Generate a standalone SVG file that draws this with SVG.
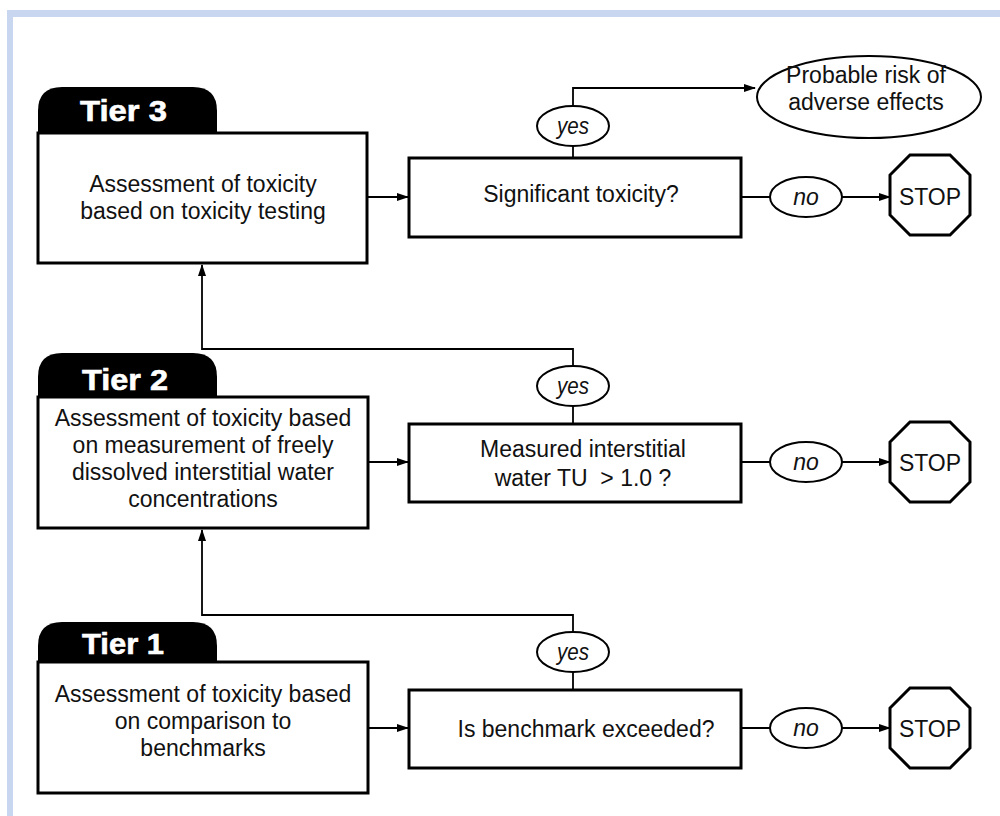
<svg xmlns="http://www.w3.org/2000/svg" width="1000" height="816" viewBox="0 0 1000 816">
<style>
.box{fill:#fff;stroke:#000;stroke-width:3}
.tab{fill:#000}
.tabt{fill:#fff;font-family:"Liberation Sans",Arial,sans-serif;font-weight:bold;font-size:29px;stroke:#fff;stroke-width:0.6}
.t{font-family:"Liberation Sans",Arial,sans-serif;font-size:23px;fill:#111;text-anchor:middle}
.lab{font-family:"Liberation Sans",Arial,sans-serif;font-size:23px;font-style:italic;fill:#111;text-anchor:middle}
.ell{fill:#fff;stroke:#000;stroke-width:2}
.oct{fill:#fff;stroke:#000;stroke-width:3}
.c{fill:none;stroke:#000;stroke-width:1.8}
</style>
<defs>
<marker id="ah" markerWidth="12" markerHeight="10" refX="11" refY="5" orient="auto" markerUnits="userSpaceOnUse">
<path d="M0,1 L12,5 L0,9 Z" fill="#000"/>
</marker>
</defs>
<rect x="0" y="0" width="1000" height="816" fill="#fff"/>
<rect x="7" y="10" width="993" height="7" fill="#c8d6ef"/>
<rect x="7" y="10" width="6" height="806" fill="#c8d6ef"/>

<g id="connectors">
<path class="c" d="M367,197 H408" marker-end="url(#ah)"/>
<path class="c" d="M573,158 V88 H755" marker-end="url(#ah)"/>
<path class="c" d="M741,197 H890" marker-end="url(#ah)"/>
<path class="c" d="M573,424 V349 H202 V265" marker-end="url(#ah)"/>
<path class="c" d="M368,462 H408" marker-end="url(#ah)"/>
<path class="c" d="M741,462 H890" marker-end="url(#ah)"/>
<path class="c" d="M573,690 V615 H202 V530" marker-end="url(#ah)"/>
<path class="c" d="M368,728 H408" marker-end="url(#ah)"/>
<path class="c" d="M741,728 H890" marker-end="url(#ah)"/>
</g>

<g id="tier3">
<path class="tab" d="M38,134 V111 Q38,87 62,87 H193 Q217,87 217,111 V134 Z"/>
<text class="tabt" x="80" y="121" textLength="87" lengthAdjust="spacingAndGlyphs">Tier 3</text>
<rect class="box" x="38" y="133" width="329" height="130"/>
<text class="t" x="203" y="192">Assessment of toxicity</text>
<text class="t" x="203" y="219">based on toxicity testing</text>
</g>
<g id="decision3">
<rect class="box" x="409" y="158" width="332" height="79"/>
<text class="t" x="581" y="202">Significant toxicity?</text>
</g>
<g id="yes3">
<ellipse class="ell" cx="573" cy="126" rx="36" ry="20"/>
<text class="lab" x="573" y="134" textLength="32" lengthAdjust="spacingAndGlyphs">yes</text>
</g>
<g id="risk">
<ellipse class="ell" cx="869" cy="97" rx="112" ry="41" stroke-width="2.5"/>
<text class="t" x="866" y="83">Probable risk of</text>
<text class="t" x="866" y="110">adverse effects</text>
</g>
<g id="no3">
<ellipse class="ell" cx="806" cy="197" rx="36" ry="20"/>
<text class="lab" x="806" y="205">no</text>
</g>
<g id="stop3">
<polygon class="oct" points="910,155 950,155 970,175 970,215 950,235 910,235 890,215 890,175"/>
<text class="t" x="930" y="205">STOP</text>
</g>

<g id="tier2">
<path class="tab" d="M38,398 V377 Q38,353 62,353 H193 Q217,353 217,377 V398 Z"/>
<text class="tabt" x="82" y="390" textLength="86" lengthAdjust="spacingAndGlyphs">Tier 2</text>
<rect class="box" x="38" y="397" width="330" height="131"/>
<text class="t" x="203" y="426">Assessment of toxicity based</text>
<text class="t" x="203" y="453">on measurement of freely</text>
<text class="t" x="203" y="480">dissolved interstitial water</text>
<text class="t" x="203" y="507">concentrations</text>
</g>
<g id="decision2">
<rect class="box" x="409" y="424" width="332" height="78"/>
<text class="t" x="583" y="457">Measured interstitial</text>
<text class="t" x="583" y="486" xml:space="preserve">water TU  &gt; 1.0 ?</text>
</g>
<g id="yes2">
<ellipse class="ell" cx="573" cy="386" rx="36" ry="20"/>
<text class="lab" x="573" y="394" textLength="32" lengthAdjust="spacingAndGlyphs">yes</text>
</g>
<g id="no2">
<ellipse class="ell" cx="806" cy="462" rx="36" ry="20"/>
<text class="lab" x="806" y="470">no</text>
</g>
<g id="stop2">
<polygon class="oct" points="910,422 950,422 970,442 970,482 950,502 910,502 890,482 890,442"/>
<text class="t" x="930" y="471">STOP</text>
</g>

<g id="tier1">
<path class="tab" d="M38,663 V646 Q38,622 62,622 H193 Q217,622 217,646 V663 Z"/>
<text class="tabt" x="82" y="654" textLength="82" lengthAdjust="spacingAndGlyphs">Tier 1</text>
<rect class="box" x="38" y="662" width="330" height="131"/>
<text class="t" x="203" y="702">Assessment of toxicity based</text>
<text class="t" x="203" y="729">on comparison to</text>
<text class="t" x="203" y="756">benchmarks</text>
</g>
<g id="decision1">
<rect class="box" x="409" y="690" width="332" height="78"/>
<text class="t" x="586" y="737">Is benchmark exceeded?</text>
</g>
<g id="yes1">
<ellipse class="ell" cx="573" cy="652" rx="36" ry="20"/>
<text class="lab" x="573" y="660" textLength="32" lengthAdjust="spacingAndGlyphs">yes</text>
</g>
<g id="no1">
<ellipse class="ell" cx="806" cy="728" rx="36" ry="20"/>
<text class="lab" x="806" y="736">no</text>
</g>
<g id="stop1">
<polygon class="oct" points="910,688 950,688 970,708 970,748 950,768 910,768 890,748 890,708"/>
<text class="t" x="930" y="737">STOP</text>
</g>
</svg>
